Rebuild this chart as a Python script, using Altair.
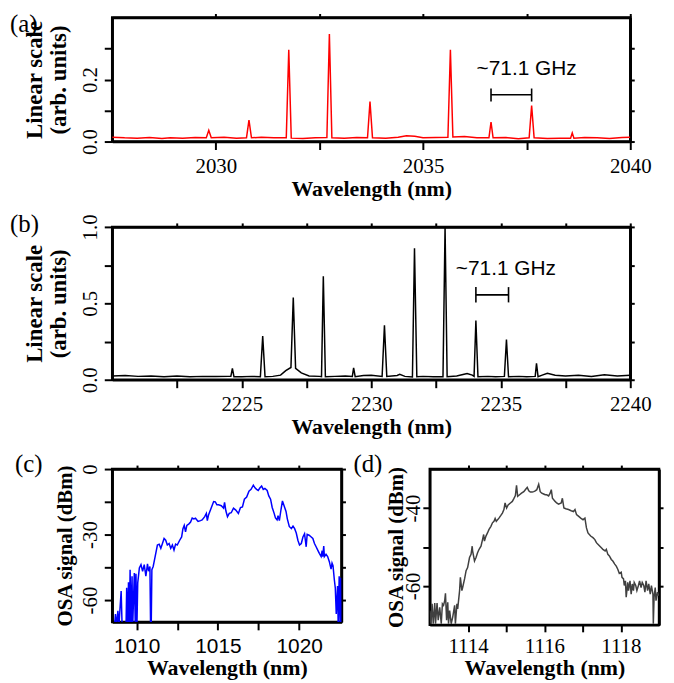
import altair as alt
import pandas as pd

SERIF = "Liberation Serif"
SANS = "Liberation Sans"

# ---------------- data ----------------
a_points = [(2027.5, 0.014), (2027.8, 0.012), (2028.1, 0.011), (2028.4, 0.013), (2028.7, 0.010),
            (2028.9, 0.012), (2029.2, 0.011), (2029.5, 0.013), (2029.77, 0.012), (2029.83, 0.036),
            (2029.89, 0.012), (2030.2, 0.014), (2030.5, 0.011), (2030.74, 0.012), (2030.8, 0.069),
            (2030.86, 0.012), (2031.1, 0.014), (2031.4, 0.012), (2031.7, 0.012), (2031.76, 0.296),
            (2031.82, 0.011), (2032.1, 0.010), (2032.4, 0.012), (2032.68, 0.013), (2032.74, 0.347),
            (2032.8, 0.012), (2033.1, 0.011), (2033.4, 0.013), (2033.66, 0.012), (2033.72, 0.129),
            (2033.78, 0.012), (2034.1, 0.011), (2034.4, 0.014), (2034.6, 0.019), (2034.8, 0.017),
            (2035.0, 0.012), (2035.3, 0.013), (2035.6, 0.014), (2035.66, 0.296), (2035.72, 0.015),
            (2036.0, 0.016), (2036.3, 0.012), (2036.59, 0.012), (2036.64, 0.063), (2036.69, 0.012),
            (2037.0, 0.013), (2037.3, 0.009), (2037.56, 0.012), (2037.62, 0.116), (2037.68, 0.012),
            (2038.0, 0.010), (2038.3, 0.011), (2038.56, 0.011), (2038.6, 0.028), (2038.64, 0.011),
            (2038.9, 0.013), (2039.2, 0.012), (2039.5, 0.010), (2039.8, 0.013), (2040.0, 0.014)]

b_points = [(2220.0, 0.025), (2220.5, 0.028), (2221.0, 0.022), (2221.5, 0.025), (2222.0, 0.020),
            (2222.5, 0.024), (2223.0, 0.020), (2223.5, 0.022), (2224.0, 0.021), (2224.5, 0.022),
            (2224.58, 0.022), (2224.64, 0.075), (2224.70, 0.020), (2225.0, 0.020), (2225.4, 0.022),
            (2225.72, 0.020), (2225.81, 0.286), (2225.9, 0.020), (2226.2, 0.022), (2226.5, 0.030),
            (2226.7, 0.060), (2226.9, 0.080), (2226.99, 0.538), (2227.08, 0.075), (2227.3, 0.045),
            (2227.6, 0.025), (2228.0, 0.022), (2228.08, 0.020), (2228.15, 0.677), (2228.23, 0.020),
            (2228.6, 0.022), (2229.0, 0.025), (2229.27, 0.022), (2229.32, 0.077), (2229.38, 0.020),
            (2229.7, 0.028), (2230.0, 0.030), (2230.42, 0.022), (2230.51, 0.357), (2230.6, 0.022),
            (2231.0, 0.028), (2231.1, 0.035), (2231.3, 0.022), (2231.59, 0.018), (2231.67, 0.860),
            (2231.76, 0.020), (2232.0, 0.022), (2232.4, 0.020), (2232.77, 0.020), (2232.85, 1.0),
            (2232.93, 0.020), (2233.3, 0.024), (2233.7, 0.040), (2233.9, 0.030), (2233.97, 0.022),
            (2234.04, 0.387), (2234.12, 0.020), (2234.5, 0.022), (2234.8, 0.020), (2235.14, 0.022),
            (2235.22, 0.263), (2235.3, 0.020), (2235.7, 0.022), (2236.0, 0.020), (2236.33, 0.022),
            (2236.38, 0.108), (2236.44, 0.020), (2236.6, 0.030), (2236.8, 0.042), (2237.1, 0.030),
            (2237.5, 0.024), (2238.0, 0.030), (2238.5, 0.022), (2239.0, 0.032), (2239.5, 0.025),
            (2240.0, 0.030)]

c_points = [(1008.64, -72), (1008.70, -66.4), (1008.76, -72), (1008.85, -64.9), (1008.91, -72),
            (1009.05, -55.9), (1009.11, -72), (1009.35, -72), (1009.39, -54.4), (1009.46, -72),
            (1009.50, -51.8), (1009.56, -72), (1009.60, -46.1), (1009.66, -72), (1009.72, -49.1),
            (1009.76, -72), (1009.86, -47.6), (1009.92, -72), (1009.96, -47.9), (1010.02, -72),
            (1010.07, -52.1), (1010.17, -45.3), (1010.27, -43.8), (1010.37, -46.8), (1010.47, -43.8),
            (1010.57, -49.1), (1010.67, -43.4), (1010.74, -46.8), (1010.82, -44.6), (1010.86, -72),
            (1010.90, -72), (1010.94, -46.1), (1011.02, -44.6), (1011.14, -40.1), (1011.28, -34.8),
            (1011.39, -34.4), (1011.49, -36.3), (1011.59, -34.1), (1011.69, -31.8), (1011.79, -32.6),
            (1011.89, -34.8), (1012.00, -34.1), (1012.10, -36.3), (1012.20, -34.8), (1012.30, -37.1),
            (1012.40, -34.4), (1012.50, -34.8), (1012.65, -32.6), (1012.77, -31.1), (1012.85, -27.3),
            (1012.93, -25.8), (1013.01, -28.8), (1013.09, -25.8), (1013.22, -25.1), (1013.32, -24.3),
            (1013.42, -22.4), (1013.52, -22.8), (1013.62, -22.5), (1013.78, -24.0), (1013.93, -23.6),
            (1014.03, -23.3), (1014.19, -21.8), (1014.29, -20.3), (1014.35, -23.6), (1014.43, -20.9),
            (1014.60, -17.6), (1014.74, -14.9), (1014.84, -15.0), (1014.94, -16.4), (1015.04, -16.4),
            (1015.21, -16.8), (1015.35, -17.9), (1015.41, -15.3), (1015.49, -19.1), (1015.59, -21.8),
            (1015.70, -20.3), (1015.82, -20.0), (1015.96, -17.9), (1016.10, -18.8), (1016.26, -20.3),
            (1016.39, -17.6), (1016.51, -17.3), (1016.63, -13.8), (1016.77, -12.8), (1016.91, -10.1),
            (1017.04, -9.3), (1017.18, -7.4), (1017.28, -8.6), (1017.38, -9.3), (1017.48, -9.8),
            (1017.59, -8.6), (1017.69, -7.8), (1017.79, -9.3), (1017.89, -8.9), (1018.03, -9.8),
            (1018.13, -12.3), (1018.24, -13.8), (1018.34, -17.6), (1018.46, -20.3), (1018.54, -22.4),
            (1018.64, -23.3), (1018.70, -21.3), (1018.78, -23.6), (1018.87, -19.1), (1018.97, -14.6),
            (1019.07, -16.8), (1019.19, -19.4), (1019.27, -22.8), (1019.39, -26.3), (1019.52, -27.3),
            (1019.62, -26.1), (1019.72, -27.3), (1019.82, -29.3), (1019.92, -32.6), (1020.02, -34.8),
            (1020.13, -34.1), (1020.23, -31.1), (1020.33, -29.6), (1020.43, -35.6), (1020.49, -29.9),
            (1020.61, -30.3), (1020.74, -31.1), (1020.84, -31.8), (1020.94, -34.1), (1021.04, -35.6),
            (1021.14, -37.1), (1021.24, -38.6), (1021.35, -40.1), (1021.41, -37.4), (1021.45, -40.1),
            (1021.51, -35.3), (1021.55, -40.1), (1021.65, -39.0), (1021.75, -40.1), (1021.85, -42.3),
            (1021.96, -45.8), (1022.02, -43.1), (1022.08, -44.3), (1022.16, -50.6), (1022.22, -54.4),
            (1022.28, -66.4), (1022.36, -53.6), (1022.40, -72), (1022.46, -49.1), (1022.52, -72),
            (1022.56, -49.8), (1022.61, -72)]

d_points = [(1113.00, -66.3), (1113.03, -69.7), (1113.06, -64.6), (1113.09, -69.7), (1113.13, -64.4),
            (1113.15, -69.7), (1113.19, -64.4), (1113.22, -68.8), (1113.26, -65.5), (1113.30, -69.7),
            (1113.33, -64.6), (1113.36, -65.0), (1113.39, -63.8), (1113.41, -61.9), (1113.44, -68.8),
            (1113.47, -64.2), (1113.49, -69.7), (1113.52, -66.3), (1113.56, -69.7), (1113.60, -68.0),
            (1113.65, -65.0), (1113.67, -69.7), (1113.71, -64.6), (1113.73, -65.9), (1113.78, -61.2),
            (1113.80, -57.8), (1113.84, -61.2), (1113.86, -60.4), (1113.91, -58.2), (1113.95, -56.1),
            (1113.99, -55.3), (1114.04, -52.7), (1114.08, -51.9), (1114.11, -49.8), (1114.12, -51.0),
            (1114.17, -53.6), (1114.21, -52.7), (1114.25, -51.5), (1114.29, -50.6), (1114.34, -49.8),
            (1114.38, -48.1), (1114.41, -46.8), (1114.43, -48.5), (1114.47, -47.2), (1114.51, -46.4),
            (1114.55, -45.5), (1114.60, -44.7), (1114.64, -43.8), (1114.68, -43.4), (1114.71, -42.7),
            (1114.74, -43.4), (1114.81, -42.6), (1114.86, -41.9), (1114.90, -41.3), (1114.94, -40.4),
            (1114.97, -38.7), (1115.01, -40.0), (1115.05, -39.2), (1115.11, -38.7), (1115.16, -38.3),
            (1115.20, -37.6), (1115.24, -36.8), (1115.27, -34.2), (1115.30, -37.0), (1115.35, -36.6),
            (1115.40, -36.2), (1115.46, -35.8), (1115.50, -35.3), (1115.55, -34.7), (1115.59, -35.6),
            (1115.63, -35.9), (1115.68, -35.9), (1115.72, -35.8), (1115.76, -35.6), (1115.80, -35.3),
            (1115.85, -33.9), (1115.89, -35.8), (1115.93, -36.2), (1115.98, -36.4), (1116.02, -36.6),
            (1116.06, -36.6), (1116.11, -36.9), (1116.15, -36.2), (1116.18, -35.3), (1116.21, -37.5),
            (1116.28, -38.3), (1116.32, -38.7), (1116.37, -39.0), (1116.44, -38.7), (1116.47, -37.5),
            (1116.51, -40.0), (1116.56, -40.2), (1116.63, -40.4), (1116.70, -40.7), (1116.76, -40.9),
            (1116.80, -40.4), (1116.84, -41.7), (1116.89, -42.1), (1116.95, -42.6), (1117.01, -43.0),
            (1117.06, -42.6), (1117.10, -45.1), (1117.14, -46.4), (1117.21, -47.2), (1117.27, -47.6),
            (1117.32, -48.1), (1117.36, -48.9), (1117.40, -49.3), (1117.49, -50.2), (1117.53, -50.6),
            (1117.59, -51.0), (1117.62, -50.6), (1117.66, -51.9), (1117.70, -52.3), (1117.75, -53.2),
            (1117.79, -53.6), (1117.84, -54.4), (1117.88, -54.9), (1117.92, -55.7), (1117.96, -56.8),
            (1118.01, -56.5), (1118.03, -57.8), (1118.07, -58.2), (1118.09, -59.9), (1118.12, -58.7),
            (1118.14, -62.9), (1118.18, -59.1), (1118.20, -61.2), (1118.24, -58.7), (1118.27, -62.1),
            (1118.30, -59.5), (1118.33, -61.2), (1118.35, -59.1), (1118.39, -59.9), (1118.42, -61.2),
            (1118.46, -59.9), (1118.49, -58.7), (1118.53, -60.4), (1118.56, -59.1), (1118.60, -59.9),
            (1118.63, -61.6), (1118.66, -58.7), (1118.70, -61.2), (1118.73, -59.5), (1118.77, -62.1),
            (1118.80, -59.9), (1118.84, -62.1), (1118.85, -69.7), (1118.87, -62.9), (1118.90, -60.4),
            (1118.92, -63.8), (1118.96, -61.6), (1118.99, -62.5)]

panel_labels = ["(a)", "(b)", "(c)", "(d)"]
spacing_text = "~71.1 GHz"
x_title = "Wavelength (nm)"
lin_title = ["Linear scale", "(arb. units)"]
osa_title = "OSA signal (dBm)"

# annotation: text position, bracket ends, bracket (low, mid, high)
a_text_pos = (2037.5, 0.235)
a_bracket = (2036.64, 2037.62)
a_bracket_y = (0.129, 0.151, 0.171)
b_text_pos = (2235.2, 0.727)
b_bracket = (2234.04, 2235.30)
b_bracket_y = (0.506, 0.555, 0.606)

# axes: domains, tick values, labelled ticks
a_xdom, a_ydom = [2027.5, 2040], [0, 0.4]
a_xticks, a_xlab = [2030, 2032.5, 2035, 2037.5, 2040], [2030, 2035, 2040]
a_yticks, a_ylab = [0, 0.1, 0.2, 0.3], [(0, "0.0"), (0.2, "0.2")]

b_xdom, b_ydom = [2220, 2240], [0, 1.0]
b_xticks, b_xlab = [2222.5, 2225, 2227.5, 2230, 2232.5, 2235, 2237.5, 2240], [2225, 2230, 2235, 2240]
b_yticks, b_ylab = [0, 0.25, 0.5, 0.75, 1.0], [(0, "0.0"), (0.5, "0.5"), (1.0, "1.0")]

c_xdom, c_ydom = [1008.5, 1022.6], [-70, 0]
c_xticks, c_xlab = [1010, 1012.5, 1015, 1017.5, 1020], [1010, 1015, 1020]
c_yticks, c_ylab = [0, -15, -30, -45, -60], [(0, "0"), (-30, "-30"), (-60, "-60")]

d_xdom, d_ydom = [1113, 1119], [-70, -30]
d_xticks, d_xlab = [1114, 1115, 1116, 1117, 1118], [1114, 1116, 1118]
d_yticks, d_ylab = [-40, -50, -60], [(-40, "-40"), (-60, "-60")]


def label_expr(pairs):
    expr = "''"
    for v, t in reversed(pairs):
        expr = f"datum.value == {v} ? '{t}' : ({expr})"
    return expr


def ax(**kw):
    base = dict(domain=True, domainColor="black", domainWidth=2.5, grid=False,
                tickColor="black", tickWidth=2, labelColor="black", titleColor="black",
                labelOverlap=False, labelFlush=False)
    base.update(kw)
    return alt.Axis(**base)


def panel(points, color, xdom, ydom, xticks, xlab, yticks, ylab, ytitle, w, h,
          label, ldx, ldy, xfont, tick, xlp, xtp, ylp, ytp, ytsize, ann=None):
    xs = alt.Scale(domain=xdom, nice=False, zero=False)
    ys = alt.Scale(domain=ydom, nice=False, zero=False)
    df = pd.DataFrame(points, columns=["wl", "val"])
    line = alt.Chart(df).mark_line(color=color, strokeWidth=1.5, clip=True).encode(
        x=alt.X("wl:Q", scale=xs, axis=ax(
            orient="bottom", values=xticks, labelExpr=label_expr([(v, str(v)) for v in xlab]),
            title=x_title, titleFont=SERIF, titleFontSize=22, titleFontWeight="bold",
            labelFont=xfont, labelFontSize=21, tickSize=tick, labelPadding=xlp, titlePadding=xtp)),
        y=alt.Y("val:Q", scale=ys, axis=ax(
            orient="left", values=yticks, labelExpr=label_expr(ylab),
            title=ytitle, titleFont=SERIF, titleFontSize=ytsize, titleFontWeight="bold",
            titleLineHeight=24, labelFont=SERIF, labelFontSize=21, labelAngle=270,
            labelAlign="center", labelBaseline="bottom", tickSize=tick,
            labelPadding=ylp, titlePadding=ytp)),
    )
    mirror = alt.Chart(df).mark_line(strokeOpacity=0).encode(
        x=alt.X("wl:Q", scale=xs, axis=ax(orient="top", values=xticks, labels=False, title=None, tickSize=4)),
        y=alt.Y("val:Q", scale=ys, axis=ax(orient="right", values=yticks, labels=False, title=None, tickSize=4)),
    )
    layers = [line, mirror]
    if ann is not None:
        (tx, ty), (b0, b1), (lo, mid, hi) = ann
        txt = alt.Chart(pd.DataFrame({"wl": [tx], "val": [ty], "t": [spacing_text]})).mark_text(
            font=SANS, fontSize=21, color="black").encode(
            x=alt.X("wl:Q", scale=xs, axis=None), y=alt.Y("val:Q", scale=ys, axis=None), text="t:N")
        hbar = alt.Chart(pd.DataFrame({"x1": [b0], "x2": [b1], "y": [mid]})).mark_rule(
            color="black", strokeWidth=1.6).encode(
            x=alt.X("x1:Q", scale=xs, axis=None), x2="x2:Q", y=alt.Y("y:Q", scale=ys, axis=None))
        caps = alt.Chart(pd.DataFrame({"x": [b0, b1], "y1": [lo, lo], "y2": [hi, hi]})).mark_rule(
            color="black", strokeWidth=1.6).encode(
            x=alt.X("x:Q", scale=xs, axis=None), y=alt.Y("y1:Q", scale=ys, axis=None), y2="y2:Q")
        layers += [hbar, caps, txt]
    lab = alt.Chart(pd.DataFrame({"t": [label]})).mark_text(
        font=SERIF, fontSize=25, align="left", baseline="top", color="black").encode(
        x=alt.value(ldx), y=alt.value(ldy), text="t:N")
    layers.append(lab)
    return alt.layer(*layers).resolve_axis(x="independent", y="independent").properties(width=w, height=h)


pa = panel(a_points, "#ff0000", a_xdom, a_ydom, a_xticks, a_xlab, a_yticks, a_ylab, lin_title,
           522, 125, panel_labels[0], -103, -5, SERIF, 8, 6, 2, 4, 9, 23,
           ann=(a_text_pos, a_bracket, a_bracket_y))
pb = panel(b_points, "#000000", b_xdom, b_ydom, b_xticks, b_xlab, b_yticks, b_ylab, lin_title,
           522, 154, panel_labels[1], -103, -15, SERIF, 8, 6, 2, 4, 9, 23,
           ann=(b_text_pos, b_bracket, b_bracket_y))
pc = panel(c_points, "#0000ff", c_xdom, c_ydom, c_xticks, c_xlab, c_yticks, c_ylab, osa_title,
           231, 154, panel_labels[2], -98, -17, SANS, 8, 6, 1, 4, 4, 21)
pd_ = panel(d_points, "#404040", d_xdom, d_ydom, d_xticks, d_xlab, d_yticks, d_ylab, osa_title,
            231, 157, panel_labels[3], -77, -17, SERIF, 7, 4, 1, -1, -3, 21)

top_part = alt.vconcat(pa, pb, spacing=9)
bottom_part = alt.hconcat(pc, pd_, spacing=3)
chart = alt.vconcat(top_part, bottom_part, spacing=11).properties(
    padding=0
).configure(font=SERIF).configure_view(stroke="black", strokeWidth=2.5)

chart.save("out.html", embed_options={"renderer": "svg", "actions": False})
